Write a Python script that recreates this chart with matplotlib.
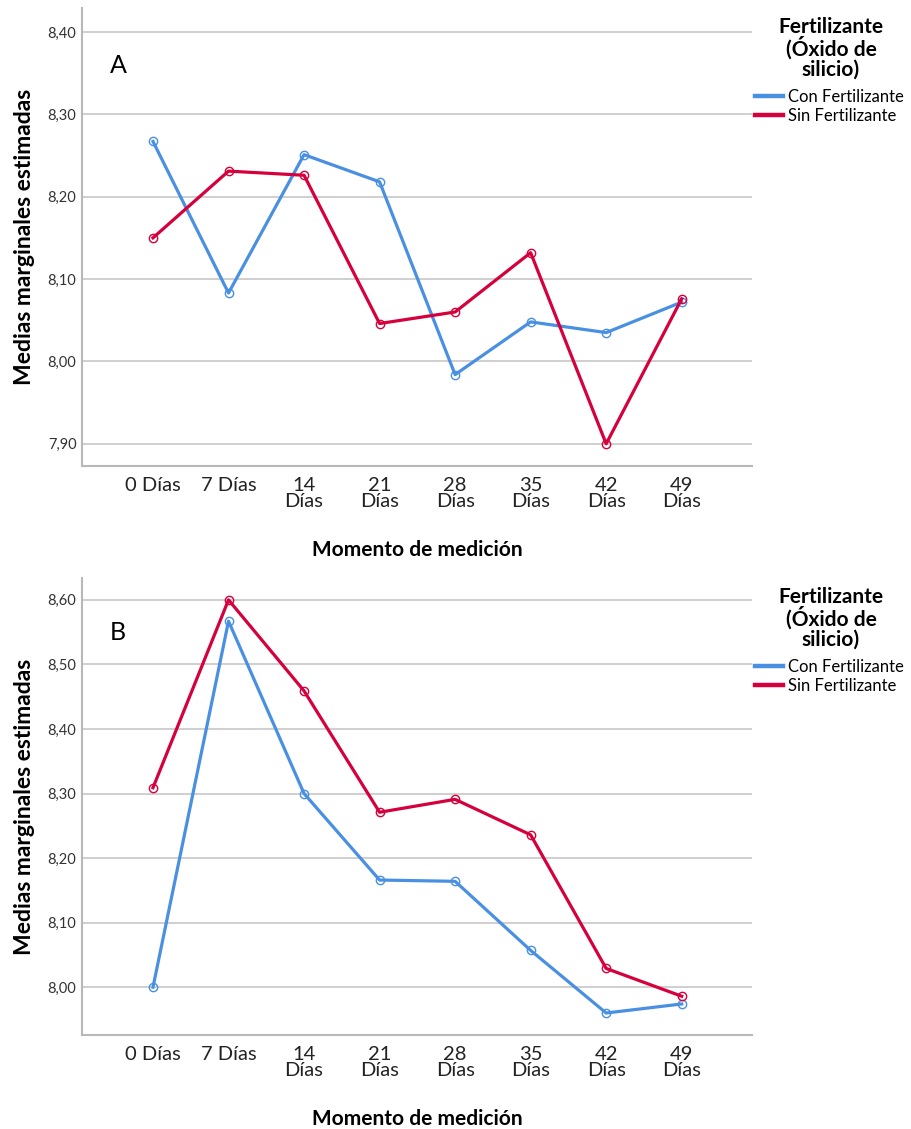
import matplotlib
matplotlib.use('Agg')
import matplotlib.pyplot as plt

plt.rcParams['font.family'] = ['Lato', 'DejaVu Sans']

# Datos
momentos = ['0 Días', '7 Días', '14\nDías', '21\nDías', '28\nDías', '35\nDías', '42\nDías', '49\nDías']
series_nombres = ['Con Fertilizante', 'Sin Fertilizante']
titulo_leyenda = 'Fertilizante\n(Óxido de\nsilicio)'

con_a = [8.267, 8.083, 8.251, 8.218, 7.984, 8.048, 8.035, 8.072]
sin_a = [8.150, 8.231, 8.226, 8.046, 8.060, 8.132, 7.900, 8.076]

con_b = [8.000, 8.567, 8.300, 8.166, 8.164, 8.057, 7.960, 7.974]
sin_b = [8.309, 8.600, 8.459, 8.271, 8.291, 8.236, 8.029, 7.986]

ticks_a = [7.90, 8.00, 8.10, 8.20, 8.30, 8.40]
ticks_b = [8.00, 8.10, 8.20, 8.30, 8.40, 8.50, 8.60]

AZUL = '#4a90e2'
ROJO = '#d5003c'
GRIS = '#b8b8b8'

fig = plt.figure(figsize=(9.12, 11.29), dpi=100)
ax_a = fig.add_axes([0.0899, 0.5872, 0.7346, 0.4057])
ax_b = fig.add_axes([0.0899, 0.0833, 0.7346, 0.4048])


def dibujar_panel(ax, con, sin, ticks, ylim, letra, ly):
    x = list(range(len(momentos)))
    for vals, color, nombre in [(con, AZUL, series_nombres[0]), (sin, ROJO, series_nombres[1])]:
        ax.plot(x, vals, color=color, linewidth=2.3, label=nombre, zorder=3,
                marker='o', markersize=6, markerfacecolor='none',
                markeredgecolor=color, markeredgewidth=1.0)
    ax.set_xlim(-0.94, 7.93)
    ax.set_ylim(*ylim)
    ax.set_yticks(ticks)
    ax.set_yticklabels([f'{t:.2f}'.replace('.', ',') for t in ticks],
                       fontsize=10.5, color='#333333')
    ax.set_xticks(x)
    ax.set_xticklabels(momentos, fontsize=14.5, color='#222222', linespacing=0.95)
    ax.tick_params(axis='y', length=0, pad=4)
    ax.tick_params(axis='x', length=0, pad=8)
    ax.grid(axis='y', color='#cccccc', linewidth=1.3)
    ax.set_axisbelow(True)
    for s in ['top', 'right']:
        ax.spines[s].set_visible(False)
    for s in ['left', 'bottom']:
        ax.spines[s].set_color(GRIS)
        ax.spines[s].set_linewidth(1.5)
    ax.set_ylabel('Medias marginales estimadas', fontsize=16.5, fontweight='bold', labelpad=9)
    ax.set_xlabel('Momento de medición', fontsize=15, fontweight='bold', labelpad=21)
    ax.text(0.042, ly, letra, transform=ax.transAxes, fontsize=18, color='black')

    # título de la leyenda (centrado, fuera del eje)
    alto = ax.bbox.height
    ax.text(1.118, 1 - 9 / alto, titulo_leyenda, transform=ax.transAxes,
            ha='center', va='top', fontsize=15, fontweight='bold',
            linespacing=0.98, multialignment='center')
    leg = ax.legend(loc='upper left', bbox_to_anchor=(1.0045, 1 - 81 / alto),
                    frameon=False, fontsize=12, handlelength=1.7,
                    handletextpad=0.3, labelspacing=0.17,
                    borderaxespad=0.0, borderpad=0.0)
    for h in leg.legend_handles:
        h.set_marker('')
        h.set_linewidth(3.2)


dibujar_panel(ax_a, con_a, sin_a, ticks_a, (7.873, 8.429), 'A', 0.858)
dibujar_panel(ax_b, con_b, sin_b, ticks_b, (7.926, 8.634), 'B', 0.864)

fig.savefig('out.png', dpi=100)
